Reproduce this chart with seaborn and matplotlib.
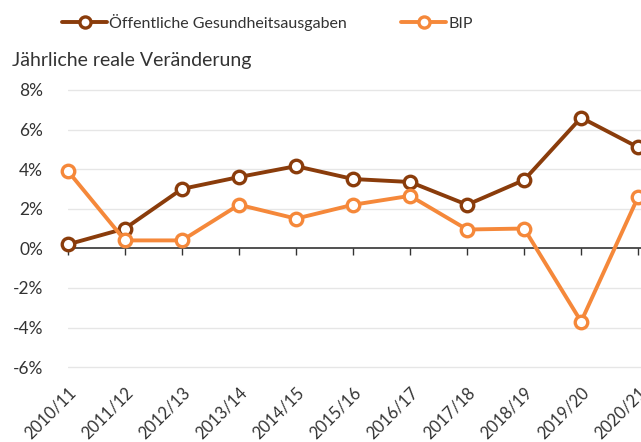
import matplotlib
matplotlib.use("Agg")
import matplotlib.pyplot as plt
import seaborn as sns
import pandas as pd

# -------------------------------
# Data
# -------------------------------
years = ["2010/11", "2011/12", "2012/13", "2013/14", "2014/15", "2015/16",
         "2016/17", "2017/18", "2018/19", "2019/20", "2020/21"]
health = [0.2, 1.0, 3.0, 3.6, 4.15, 3.5, 3.35, 2.2, 3.45, 6.6, 5.1]
gdp = [3.9, 0.4, 0.4, 2.2, 1.5, 2.2, 2.65, 0.95, 1.0, -3.7, 2.6]
yticks = [-6, -4, -2, 0, 2, 4, 6, 8]

label_health = "Öffentliche Gesundheitsausgaben"
label_gdp = "BIP"

BROWN = "#8a3c0b"
ORANGE = "#f5883a"
TEXT = "#333333"

df = pd.DataFrame({"Jahr": years, label_health: health, label_gdp: gdp})
df["pos"] = range(len(df))
long = df.melt(id_vars=["Jahr", "pos"], value_vars=[label_health, label_gdp],
               var_name="Serie", value_name="Wert")

sns.set_theme(style="white")
plt.rcParams["font.family"] = ["Lato", "DejaVu Sans"]

fig = plt.figure(figsize=(6.41, 4.42), dpi=100)
ax = fig.add_axes([0.106, 0.1425, 0.894, 0.6675])

for y in yticks:
    if y != 0:
        ax.axhline(y, color="#e6e6e6", lw=1, zorder=0)

sns.lineplot(data=long, x="pos", y="Wert", hue="Serie",
             palette={label_health: BROWN, label_gdp: ORANGE},
             marker="o", markersize=9, markerfacecolor="white",
             markeredgewidth=2.4, linewidth=2.8, ax=ax, legend=False,
             zorder=3)
for line, c in zip(ax.get_lines()[-2:], [BROWN, ORANGE]):
    line.set_markeredgecolor(c)
    line.set_clip_on(False)

ax.set_xlim(0, 10.05)
ax.set_ylim(-6.6, 8.3)

# zero line with downward tick marks
zero_ax = ax.secondary_xaxis(0, transform=ax.transData)
zero_ax.set_xticks(range(len(years)))
zero_ax.set_xticklabels([])
zero_ax.tick_params(axis="x", direction="out", length=5, width=1, color=TEXT)
zero_ax.spines["bottom"].set_color(TEXT)
zero_ax.spines["bottom"].set_linewidth(1.2)

ax.set_xticks(range(len(years)))
ax.set_xticklabels(years, rotation=45, ha="right", rotation_mode="anchor",
                   fontsize=12, color=TEXT)
ax.tick_params(axis="x", length=0, pad=4)
ax.set_yticks(yticks)
ax.set_yticklabels([f"{v}%" for v in yticks], fontsize=12.5, color=TEXT)
ax.tick_params(axis="y", length=0, pad=18)
for s in ax.spines.values():
    s.set_visible(False)
ax.set_xlabel("")
ax.set_ylabel("")

fig.text(0.019, 0.862, "Jährliche reale Veränderung", fontsize=14,
         color=TEXT, va="center", ha="left")

handles = [plt.Line2D([], [], color=BROWN, lw=2.8, marker="o", markersize=8,
                      markerfacecolor="white", markeredgewidth=2.4),
           plt.Line2D([], [], color=ORANGE, lw=2.8, marker="o", markersize=8,
                      markerfacecolor="white", markeredgewidth=2.4)]
fig.legend(handles, [label_health, label_gdp], loc="center left",
           bbox_to_anchor=(0.097, 0.95), ncol=2, frameon=False, fontsize=11.5,
           handlelength=2.8, handletextpad=0.15, columnspacing=3.4,
           labelcolor=TEXT, borderaxespad=0, borderpad=0)

fig.savefig("out.png", dpi=100)
